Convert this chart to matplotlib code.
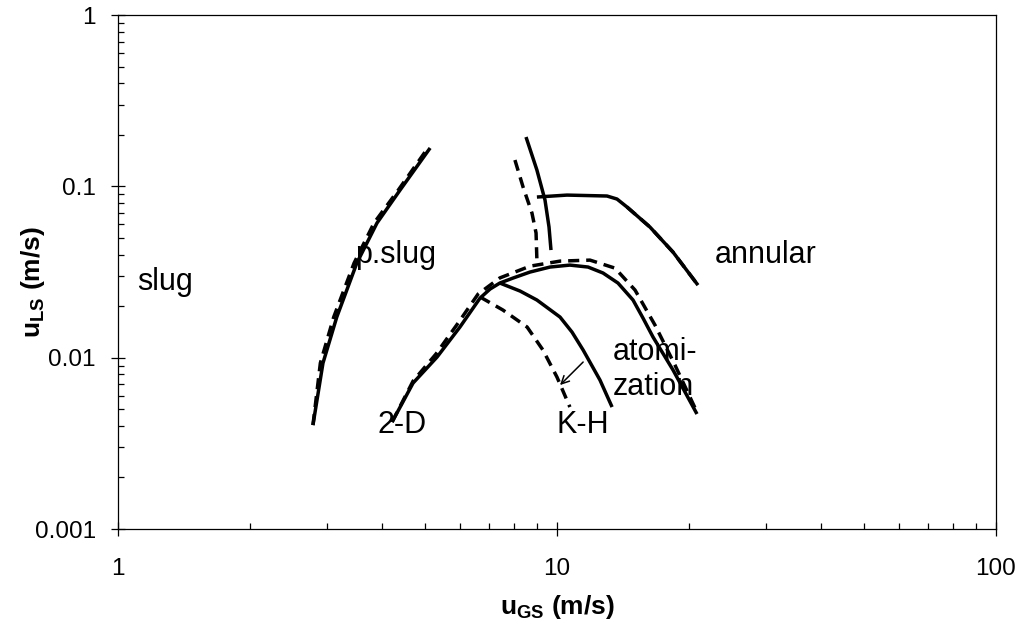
import matplotlib
matplotlib.use("Agg")
import matplotlib.pyplot as plt
from matplotlib.ticker import FixedLocator, FuncFormatter, LogLocator, NullFormatter

plt.rcParams['font.family'] = ['Liberation Sans', 'DejaVu Sans']
plt.rcParams['mathtext.fontset'] = 'custom'
plt.rcParams['mathtext.rm'] = 'Liberation Sans'
plt.rcParams['mathtext.bf'] = 'Liberation Sans:bold'

# p.slug boundary
pslug_x = [2.78, 2.93, 3.15, 3.50, 3.89, 4.39, 5.14]
pslug_y = [0.00404, 0.0093, 0.01726, 0.0357, 0.0611, 0.0951, 0.1674]
pslug_xd = [2.78, 2.89, 3.10, 3.45, 3.83, 4.35, 5.08]
pslug_yd = [0.00404, 0.0093, 0.01726, 0.0357, 0.0611, 0.0951, 0.1674]

# 2-D / atomization envelope
env_x = [4.21, 4.70, 5.33, 6.01, 6.68, 7.04, 7.41, 7.94, 8.68, 9.64, 10.70, 11.77, 12.73,
         13.77, 14.90, 15.70, 16.55, 18.38, 20.84]
env_y = [0.00421, 0.00711, 0.01008, 0.01509, 0.02228, 0.02515, 0.02726, 0.02915, 0.0316,
         0.0338, 0.0347, 0.0338, 0.0312, 0.02726, 0.0217, 0.01703, 0.01319, 0.00847, 0.00469]
env_xd = [4.21, 4.70, 5.30, 5.95, 6.61, 7.41, 8.68, 10.16, 11.89, 13.56, 15.06, 16.72, 18.57, 20.84]
env_yd = [0.00421, 0.0073, 0.0105, 0.0159, 0.0235, 0.0292, 0.0342, 0.0366, 0.0371, 0.0333,
          0.0248, 0.0155, 0.00905, 0.00481]

# K-H
kh_x = [7.41, 8.24, 9.00, 10.16, 10.82, 11.47, 12.53, 13.35]
kh_y = [0.02726, 0.02448, 0.0217, 0.01726, 0.0141, 0.01108, 0.0074, 0.00515]
kh_xd = [6.68, 7.53, 8.55, 9.29, 10.0, 10.70]
kh_yd = [0.0226, 0.01897, 0.01509, 0.01108, 0.0077, 0.00515]

# near-vertical boundary
vert_x = [8.50, 9.00, 9.39, 9.59, 9.69]
vert_y = [0.194, 0.1245, 0.0832, 0.0579, 0.04247]
vert_xd = [8.02, 8.37, 8.77, 8.96, 9.00]
vert_yd = [0.1424, 0.0991, 0.0698, 0.0534, 0.0371]

# annular
ann_x = [9.00, 10.54, 13.0, 13.70, 14.44, 16.28, 18.38, 20.95]
ann_y = [0.0866, 0.0889, 0.0878, 0.0843, 0.0757, 0.0579, 0.0413, 0.0265]
ann_xd = [14.44, 16.28, 18.38, 20.95]
ann_yd = [0.0757, 0.0579, 0.0413, 0.0265]

# arrow K-H solid -> dashed
arrow_from = (11.47, 0.00943)
arrow_to = (10.16, 0.00692)

labels = ["slug", "p.slug", "annular", "atomi-", "zation", "2-D", "K-H"]
label_x = [1.105, 3.47, 22.9, 13.4, 13.4, 3.91, 10.0]
label_y = [0.0276, 0.0396, 0.0396, 0.01074, 0.00672, 0.00404, 0.00404]

fig = plt.figure(figsize=(10.22, 6.25), dpi=100)
ax = fig.add_axes([0.1155, 0.1536, 0.859, 0.8224])
ax.set_xscale('log')
ax.set_yscale('log')
ax.set_xlim(1, 100)
ax.set_ylim(0.001, 1)

lw = 2.5
dash = (3.2, 2.0)
for xs, ys in [(pslug_x, pslug_y), (env_x, env_y), (kh_x, kh_y), (vert_x, vert_y), (ann_x, ann_y)]:
    ax.plot(xs, ys, color='black', lw=lw, solid_capstyle='butt', solid_joinstyle='round')
for xs, ys in [(pslug_xd, pslug_yd), (env_xd, env_yd), (kh_xd, kh_yd), (vert_xd, vert_yd), (ann_xd, ann_yd)]:
    ax.plot(xs, ys, color='black', lw=lw, dashes=dash)

ax.annotate('', xy=arrow_to, xytext=arrow_from,
            arrowprops=dict(arrowstyle='->', lw=1.1, color='black', mutation_scale=14,
                            shrinkA=0, shrinkB=0))

for t, x, y in zip(labels, label_x, label_y):
    ax.text(x, y, t, fontsize=22, ha='left', va='center')

ax.xaxis.set_major_locator(FixedLocator([1, 10, 100]))
ax.yaxis.set_major_locator(FixedLocator([0.001, 0.01, 0.1, 1]))
ax.xaxis.set_minor_locator(LogLocator(base=10, subs=range(2, 10)))
ax.yaxis.set_minor_locator(LogLocator(base=10, subs=range(2, 10)))
ax.xaxis.set_minor_formatter(NullFormatter())
ax.yaxis.set_minor_formatter(NullFormatter())
fmt = FuncFormatter(lambda v, p: '%g' % v)
ax.xaxis.set_major_formatter(fmt)
ax.yaxis.set_major_formatter(fmt)

ax.tick_params(which='major', direction='inout', length=10, width=0.9, labelsize=17.5)
ax.tick_params(which='minor', direction='in', length=4.5, width=0.9)
ax.tick_params(axis='x', which='major', pad=16)
ax.tick_params(axis='y', which='major', pad=11)
for s in ax.spines.values():
    s.set_linewidth(0.9)

ax.set_xlabel(r'$\mathbf{u}_{\mathbf{GS}}$ (m/s)', fontsize=19, fontweight='bold', va='center')
ax.set_ylabel(r'$\mathbf{u}_{\mathbf{LS}}$ (m/s)', fontsize=19, fontweight='bold', va='center')
ax.xaxis.set_label_coords(0.5, -0.152)
ax.yaxis.set_label_coords(-0.097, 0.48)

fig.savefig('out.png', dpi=100)
